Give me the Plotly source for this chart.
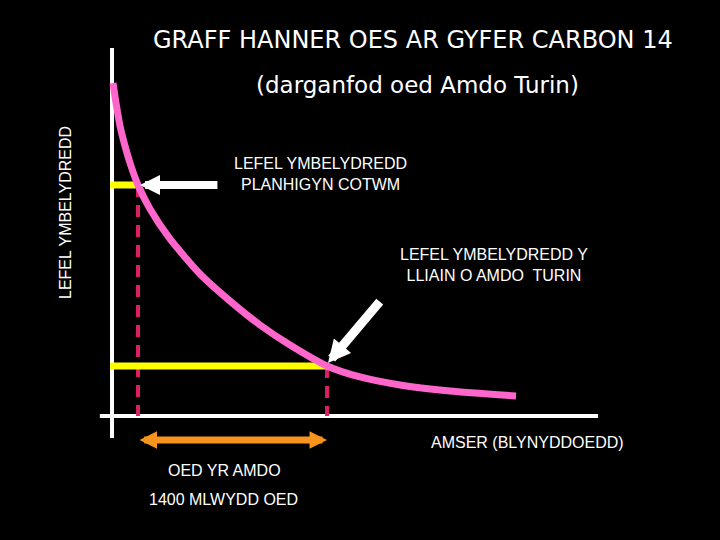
import plotly.graph_objects as go

# ---- data (arbitrary units: time 0-100, radiation level 0-100) ----
curve_time = [0.21, 0.82, 1.65, 2.67, 3.91, 5.35, 7.82, 11.93, 18.11, 24.28, 30.45, 36.63,
              44.24, 51.03, 59.26, 69.55, 83.13]
curve_level = [90.5, 85.05, 78.8, 73.37, 67.93, 62.77, 56.25, 48.1, 38.59, 31.25, 24.73, 19.29,
               13.6, 10.6, 8.42, 6.79, 5.43]

cotton_time = 5.35
cotton_level = 62.77
shroud_time = 44.24
shroud_level = 13.6

axis_x_end = 100
axis_y_end = 100
axis_y_below = -6
axis_x_before = -2.5
level_line_start = -0.4
age_arrow_level = -6.5

title_text = "GRAFF HANNER OES AR GYFER CARBON 14"
subtitle_text = "(darganfod oed Amdo Turin)"
ylabel_text = "LEFEL YMBELYDREDD"
xlabel_text = "AMSER (BLYNYDDOEDD)"
cotton_label = "LEFEL YMBELYDREDD<br>PLANHIGYN COTWM"
shroud_label = "LEFEL YMBELYDREDD Y<br>LLIAIN O AMDO  TURIN"
age_label1 = "OED YR AMDO"
age_label2 = "1400 MLWYDD OED"

PINK = "#FF66CC"
RED = "#DC1E64"
YELLOW = "#FFFF00"
ORANGE = "#F7941D"
WHITE = "#FFFFFF"

fig = go.Figure()

# axes lines
fig.add_trace(go.Scatter(x=[0, 0], y=[axis_y_below, axis_y_end], mode="lines",
                         line=dict(color=WHITE, width=4), hoverinfo="skip"))
fig.add_trace(go.Scatter(x=[axis_x_before, axis_x_end], y=[0, 0], mode="lines",
                         line=dict(color=WHITE, width=4), hoverinfo="skip"))

# red dashed drop lines
for t, lv in [(cotton_time, cotton_level), (shroud_time, shroud_level)]:
    fig.add_trace(go.Scatter(x=[t, t], y=[lv, 0], mode="lines",
                             line=dict(color=RED, width=4, dash="12px,8px"), hoverinfo="skip"))

# yellow level lines
for t, lv in [(cotton_time, cotton_level), (shroud_time, shroud_level)]:
    fig.add_trace(go.Scatter(x=[level_line_start, t], y=[lv, lv], mode="lines",
                             line=dict(color=YELLOW, width=7), hoverinfo="skip"))

# decay curve
fig.add_trace(go.Scatter(x=curve_time, y=curve_level, mode="lines",
                         line=dict(color=PINK, width=7, shape="spline", smoothing=0.6),
                         hoverinfo="skip"))

# arrows
fig.add_annotation(x=cotton_time + 0.4, y=cotton_level, ax=22.0, ay=cotton_level,
                   xref="x", yref="y", axref="x", ayref="y", text="", showarrow=True,
                   arrowhead=2, arrowsize=0.5, arrowwidth=8, arrowcolor=WHITE, standoff=0)
fig.add_annotation(x=shroud_time + 0.2, y=shroud_level + 0.8, ax=55.35, ay=31.5,
                   xref="x", yref="y", axref="x", ayref="y", text="", showarrow=True,
                   arrowhead=2, arrowsize=0.5, arrowwidth=9, arrowcolor=WHITE, standoff=0)
fig.add_annotation(x=shroud_time, y=age_arrow_level, ax=cotton_time, ay=age_arrow_level,
                   xref="x", yref="y", axref="x", ayref="y", text="", showarrow=True,
                   arrowhead=2, arrowsize=0.5, startarrowhead=2, startarrowsize=0.5,
                   arrowside="end+start", arrowwidth=7, arrowcolor=ORANGE, standoff=0,
                   startstandoff=0)

def txt(text, x, y, size, family="Liberation Sans, Arial, sans-serif", angle=0):
    fig.add_annotation(x=x / 720, y=1 - y / 540, xref="paper", yref="paper",
                       text=text, showarrow=False, xanchor="center", yanchor="middle",
                       textangle=angle, font=dict(color=WHITE, size=size, family=family))

txt(title_text, 413.5, 40, 24, family="DejaVu Sans, sans-serif")
txt(subtitle_text, 417, 85, 23, family="DejaVu Sans, sans-serif")
txt(cotton_label, 320, 173.5, 16)
txt(shroud_label, 494, 264.5, 16)
txt(xlabel_text, 527, 442, 16)
txt(age_label1, 224, 470, 16)
txt(age_label2, 223, 499, 16)
txt(ylabel_text, 66, 213, 16, angle=-90)

fig.update_layout(
    width=720, height=540,
    margin=dict(l=0, r=0, t=0, b=0),
    paper_bgcolor="black", plot_bgcolor="black",
    showlegend=False,
    xaxis=dict(visible=False, range=[-23.05, 125.1]),
    yaxis=dict(visible=False, range=[-33.7, 113.04]),
)

fig.write_html("out.html", config={"displayModeBar": False},
               post_script="document.body.style.margin='0';document.body.style.background='black';")
